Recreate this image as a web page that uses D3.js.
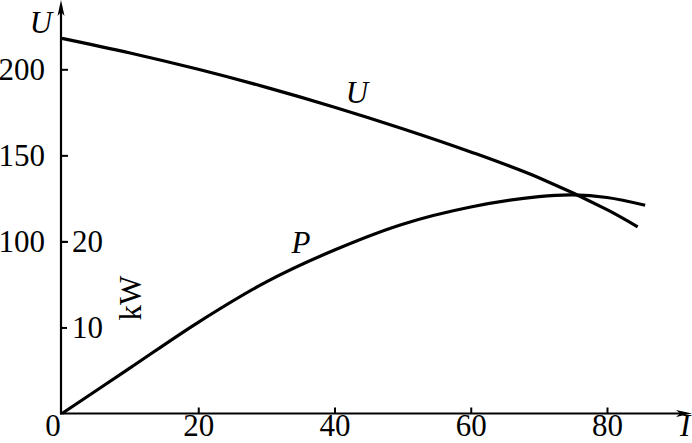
<!DOCTYPE html>
<html>
<head>
<meta charset="utf-8">
<script src="https://cdn.jsdelivr.net/npm/d3@7"></script>
<style>
  html, body { margin: 0; padding: 0; background: #fff; }
  svg { display: block; }
  text { font-family: 'Liberation Serif', 'Times New Roman', serif; fill: #000; }
</style>
</head>
<body>
<div id="chart"></div>
<script>
// current I (A) and terminal voltage U (V)
const currentU = [0, 10, 20, 30, 40, 50, 60, 70, 80, 84.5];
const voltageU = [218, 209.5, 200, 189.5, 178, 165.5, 152, 137, 118.5, 108.5];

// current I (A) and output power P (kW)
const currentP = [0, 10, 20, 30, 40, 50, 60, 70, 75, 80, 85.6];
const powerP = [0, 5.3, 10.6, 15.3, 19.0, 22.0, 24.0, 25.2, 25.4, 25.1, 24.2];

const xTicks = [20, 40, 60, 80];
const uTicks = [100, 150, 200];
const pTicks = [10, 20];

const width = 692;
const height = 443;
const fontSize = 31;
const bottomBaseline = 436;

const svg = d3.select('#chart').append('svg')
  .attr('width', width)
  .attr('height', height);

const x = d3.scaleLinear().domain([0, 80]).range([62, 607]);
const yU = d3.scaleLinear().domain([0, 200]).range([413.5, 69.3]);
const yP = d3.scaleLinear().domain([0, 40]).range([413.5, 69.3]);

const originX = x(0) - 1;
const originY = yU(0);

function styleAxis(g) {
  g.select('.domain').remove();
  g.selectAll('.tick line').attr('stroke', '#000').attr('stroke-width', 2);
  g.selectAll('.tick text')
    .attr('font-size', fontSize)
    .attr('font-family', 'Liberation Serif');
}

// x axis ticks point up into the plot, labels sit on a fixed baseline
svg.append('g')
  .attr('transform', `translate(0, ${originY})`)
  .call(d3.axisBottom(x).tickValues(xTicks).tickSizeInner(-6).tickSizeOuter(0))
  .call(styleAxis)
  .call(g => g.selectAll('.tick text')
    .attr('y', bottomBaseline - originY)
    .attr('dy', 0));

// U axis: labels left, ticks to the right
svg.append('g')
  .attr('transform', `translate(${originX}, 0)`)
  .call(d3.axisLeft(yU).tickValues(uTicks).tickSizeInner(-7).tickSizeOuter(0).tickPadding(16))
  .call(styleAxis);

// P axis (kW) labels right of the same line
svg.append('g')
  .attr('transform', `translate(${originX}, 0)`)
  .call(d3.axisRight(yP).tickValues(pTicks).tickSizeInner(6).tickSizeOuter(0).tickPadding(5))
  .call(styleAxis);

// axis lines with arrow heads
svg.append('line')
  .attr('x1', originX).attr('y1', originY + 1)
  .attr('x2', originX).attr('y2', 6)
  .attr('stroke', '#000').attr('stroke-width', 2.2);
svg.append('path')
  .attr('d', `M${originX},0 L${originX - 3.5},16 L${originX},12 L${originX + 3.5},16 Z`)
  .attr('fill', '#000');

svg.append('line')
  .attr('x1', originX - 1).attr('y1', originY)
  .attr('x2', 686).attr('y2', originY)
  .attr('stroke', '#000').attr('stroke-width', 2.2);
svg.append('path')
  .attr('d', `M692,${originY} L676,${originY - 3.5} L680,${originY} L676,${originY + 3.5} Z`)
  .attr('fill', '#000');

// curves
const lineU = d3.line()
  .x(d => x(d[0]))
  .y(d => yU(d[1]))
  .curve(d3.curveCatmullRom);

const lineP = d3.line()
  .x(d => x(d[0]))
  .y(d => yP(d[1]))
  .curve(d3.curveCatmullRom);

svg.append('path')
  .datum(currentU.map((c, i) => [c, voltageU[i]]))
  .attr('d', lineU)
  .attr('fill', 'none')
  .attr('stroke', '#000')
  .attr('stroke-width', 3.2);

svg.append('path')
  .datum(currentP.map((c, i) => [c, powerP[i]]))
  .attr('d', lineP)
  .attr('fill', 'none')
  .attr('stroke', '#000')
  .attr('stroke-width', 3.2);

// labels
svg.append('text')
  .text('0')
  .attr('x', 53)
  .attr('y', bottomBaseline)
  .attr('text-anchor', 'middle')
  .attr('font-size', fontSize);

svg.append('text')
  .text('U')
  .attr('x', 41)
  .attr('y', 33)
  .attr('text-anchor', 'middle')
  .attr('font-style', 'italic')
  .attr('font-size', fontSize);

svg.append('text')
  .text('I')
  .attr('x', 680)
  .attr('y', bottomBaseline)
  .attr('font-style', 'italic')
  .attr('font-size', fontSize);

svg.append('text')
  .text('U')
  .attr('x', 357)
  .attr('y', 103)
  .attr('text-anchor', 'middle')
  .attr('font-style', 'italic')
  .attr('font-size', fontSize);

svg.append('text')
  .text('P')
  .attr('x', 301)
  .attr('y', 253)
  .attr('text-anchor', 'middle')
  .attr('font-style', 'italic')
  .attr('font-size', fontSize);

svg.append('text')
  .text('kW')
  .attr('transform', 'translate(141, 298) rotate(-90)')
  .attr('text-anchor', 'middle')
  .attr('font-size', fontSize);
</script>
</body>
</html>
